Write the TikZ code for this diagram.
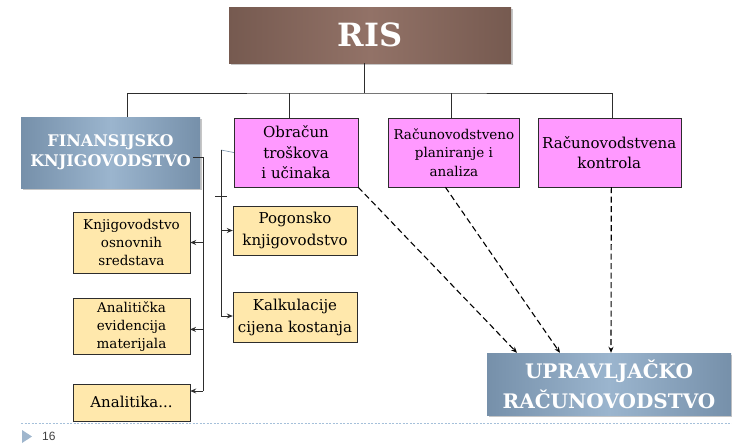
\documentclass[tikz,border=0pt]{standalone}
\usepackage{fontspec}
\setmainfont{DejaVu Serif}
\newfontfamily\numfont{Liberation Sans}
\usetikzlibrary{positioning,arrows.meta,shadows}
\definecolor{risdark}{RGB}{118,90,80}
\definecolor{rislight}{RGB}{146,114,103}
\definecolor{steeldark}{RGB}{118,144,170}
\definecolor{steellight}{RGB}{155,181,206}
\definecolor{boxpink}{RGB}{255,153,255}
\definecolor{sand}{RGB}{255,232,172}
\definecolor{wire}{RGB}{45,45,45}
\definecolor{slideblue}{RGB}{165,192,218}
\tikzset{
  >={Stealth[length=6pt,width=5pt]},
  risbox/.style={
    draw=none,
    align=center,
    text=white,
    inner sep=0pt,
    left color=risdark,
    right color=risdark,
    middle color=rislight,
    drop shadow={opacity=0.45,shadow xshift=1.5pt,shadow yshift=-2pt}
  },
  areabox/.style={
    risbox,
    left color=steeldark,
    right color=steeldark,
    middle color=steellight
  },
  taskbox/.style={
    draw=wire,
    fill=boxpink,
    align=center,
    inner sep=0pt,
    minimum height=69pt,
    font=\fontsize{15}{20.5}\selectfont
  },
  subbox/.style={
    draw=wire,
    fill=sand,
    align=center,
    inner sep=0pt,
    font=\fontsize{15}{21.5}\selectfont
  },
  conn/.style={draw=wire, line width=1pt},
  dep/.style={->, black, line width=1.1pt, dash pattern=on 6pt off 3.5pt}
}

\begin{document}
\begin{tikzpicture}[x=1pt,y=-1pt]
  \useasboundingbox (0,0) rectangle (732,445);

  % top level
  \node[risbox, minimum width=282pt, minimum height=56pt,
        font=\fontsize{32}{36}\selectfont\bfseries] (ris) at (370,35) {RIS};

  % second level
  \node[areabox, minimum width=179pt, minimum height=71pt,
        font=\fontsize{16}{20}\selectfont\bfseries] (fin) at (110.5,152.5) {FINANSIJSKO\\KNJIGOVODSTVO};
  \node[taskbox, minimum width=124pt] (obr) at (296,152.5) {Obračun\\troškova\\i učinaka};
  \node[taskbox, minimum width=131pt, right=30pt of obr,
        font=\fontsize{13.5}{18.5}\selectfont] (plan) {Računovodstveno\\planiranje i\\analiza};
  \node[taskbox, minimum width=143pt, right=18pt of plan] (kon) {Računovodstvena\\kontrola};

  % financial sub-areas
  \node[subbox, minimum width=117pt, minimum height=61pt,
        font=\fontsize{13.5}{18}\selectfont] (osn) at (131.5,242.5) {Knjigovodstvo\\osnovnih\\sredstava};
  \node[subbox, minimum width=117pt, minimum height=56pt, below=25pt of osn,
        font=\fontsize{13.5}{18}\selectfont] (mat) {Analitička\\evidencija\\materijala};
  \node[subbox, minimum width=117pt, minimum height=37pt, below=29pt of mat] (ana) {Analitika...};

  % cost sub-areas
  \node[subbox, minimum width=124pt, minimum height=49pt] (pog) at (295,230.5) {Pogonsko\\knjigovodstvo};
  \node[subbox, minimum width=124pt, minimum height=50pt, below=37pt of pog] (kal) {Kalkulacije\\cijena kostanja};

  % management accounting
  \node[areabox, minimum width=244pt, minimum height=62pt,
        font=\fontsize{20}{30}\selectfont\bfseries] (upr) at (609,384) {UPRAVLJAČKO\\RAČUNOVODSTVO};

  % tree from RIS
  \coordinate (bus) at ([xshift=-6pt]ris.south |- 0,93);
  \draw[conn] ([xshift=-6pt]ris.south) -- (bus);
  \draw[conn] ([xshift=17pt]fin.north) |- (bus) -| ([xshift=3.5pt]kon.north);
  \draw[conn] ([xshift=-7pt]obr.north) -- ([xshift=-7pt]obr.north |- bus);
  \draw[conn] ([xshift=-2.5pt]plan.north) -- ([xshift=-2.5pt]plan.north |- bus);

  % left bracket
  \coordinate (ltop) at (203,157);
  \coordinate (lbot) at (203,391);
  \draw[conn] ([xshift=-7pt,yshift=-4.5pt]fin.east) -- (ltop) -- (lbot);
  \draw[conn, ->] (ltop |- osn.east) -- (osn.east);
  \draw[conn, ->] (ltop |- mat.east) ++(0,3) -- ++(-13,0);
  \draw[conn, ->] (lbot) -- (lbot -| ana.east);

  % right bracket
  \coordinate (rtop) at (221,150);
  \coordinate (rbot) at (221,316);
  \draw[steeldark, line width=0.6pt] (rtop) -- (obr.west);
  \draw[conn] (rtop) -- (rbot);
  \draw[conn] (215,196) -- (227,196);
  \draw[conn, ->] (rtop |- pog.west) -- (pog.west);
  \draw[conn, ->] (rbot) -- (rbot -| kal.west);

  % dashed links
  \draw[dep] (obr.south east) -- ([xshift=-92pt]upr.north);
  \draw[dep] ([xshift=-8.5pt]plan.south) -- ([xshift=-49pt]upr.north);
  \draw[dep] ([xshift=2pt]kon.south) -- ([xshift=2pt]upr.north);

  % slide footer
  \draw[slideblue, line width=0.8pt, dash pattern=on 2pt off 1.5pt] (21,423) -- (732,423);
  \fill[slideblue!85!gray] (22,430) -- (32,436.5) -- (22,443) -- cycle;
  \node[font=\numfont\fontsize{12}{14}\selectfont, text=black!75, anchor=west, inner sep=0pt] (num) at (42,436.5) {16};
\end{tikzpicture}
\end{document}
